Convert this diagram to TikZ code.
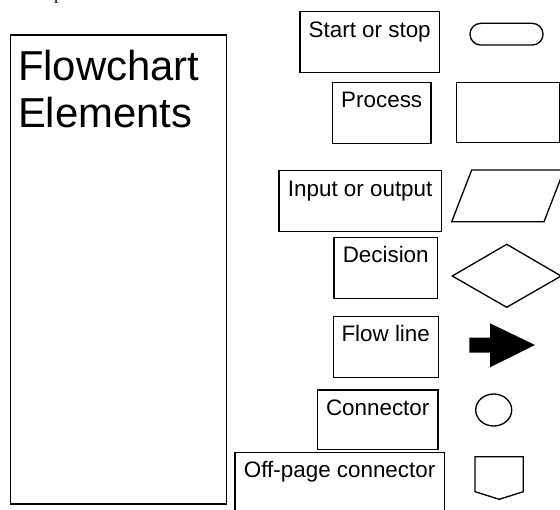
\documentclass[tikz,border=0pt]{standalone}
\usepackage{fontspec}
\setmainfont{Liberation Sans}
\newfontfamily\serifnote{Liberation Serif}
\usetikzlibrary{shapes.misc,shapes.geometric}

\begin{document}
\begin{tikzpicture}[x=0.75pt, y=-0.75pt, line width=1pt]
  \tikzset{every node/.style={inner sep=0pt},
    labelbox/.style={draw, anchor=north west, text height=19.2pt, text depth=26.5pt,
      font=\fontsize{16.8}{20}\selectfont},
    title/.style={anchor=base west, text width=200pt, align=left,
      font=\fontsize{31.4}{35.8}\selectfont},
    symbol/.style={draw, line join=miter}}
  \useasboundingbox (0,0) rectangle (560,510);

  % cut-off line above the picture
  \node[anchor=base west, font=\serifnote\fontsize{13.5}{16}\selectfont] (cut) at (53.5,-0.5) {p};

  \node[draw, anchor=north west, minimum width=161.8pt, minimum height=351.6pt] (panel) at (10,34.5) {};
  \node[title] (title) at (17.4,80) {Flowchart\\Elements};

  % labels
  \node[labelbox, minimum width=104.6pt] (start) at (299.3,11) {Start or stop};
  \node[labelbox, minimum width=74pt] (process) at (331.7,81.7) {Process};
  \node[labelbox, minimum width=121.8pt] (io) at (278.3,170) {Input or output};
  \node[labelbox, minimum width=77.6pt] (decision) at (333.3,236.7) {Decision};
  \node[labelbox, minimum width=78.8pt] (flow) at (332.5,315.7) {Flow line};
  \node[labelbox, minimum width=90.5pt, text depth=25.6pt] (connector) at (316.7,389.3) {Connector};
  \node[labelbox, minimum width=157pt, text depth=50pt] (offpage) at (234.3,451.7) {Off-page connector};

  % symbols
  \node[symbol, rounded rectangle, minimum width=54.8pt, minimum height=16.3pt] (terminal) at (506.5,34.2) {};
  \node[symbol, rectangle, minimum width=77pt, minimum height=45.3pt] (procsym) at (508,112.5) {};
  \draw[symbol] (451.7,221.7) -- (544,221.7) -- (564,170) -- (471.7,170) -- cycle;
  \draw[symbol] (452.3,276) -- (506.7,244.3) -- (561.1,276) -- (506.7,307.3) -- cycle;
  \fill (469.3,337.5) -- (490,337.5) -- (490,323.3) -- (535,345) -- (490,367.3)
    -- (490,352.7) -- (469.3,352.7) -- cycle;
  \node[symbol, ellipse, minimum width=27pt, minimum height=24pt] (connsym) at (493.7,410) {};
  \draw[symbol] (475,456.7) -- (523.3,456.7) -- (523.3,491.7) -- (499.2,499.3)
    -- (475,491.7) -- cycle;
\end{tikzpicture}
\end{document}
